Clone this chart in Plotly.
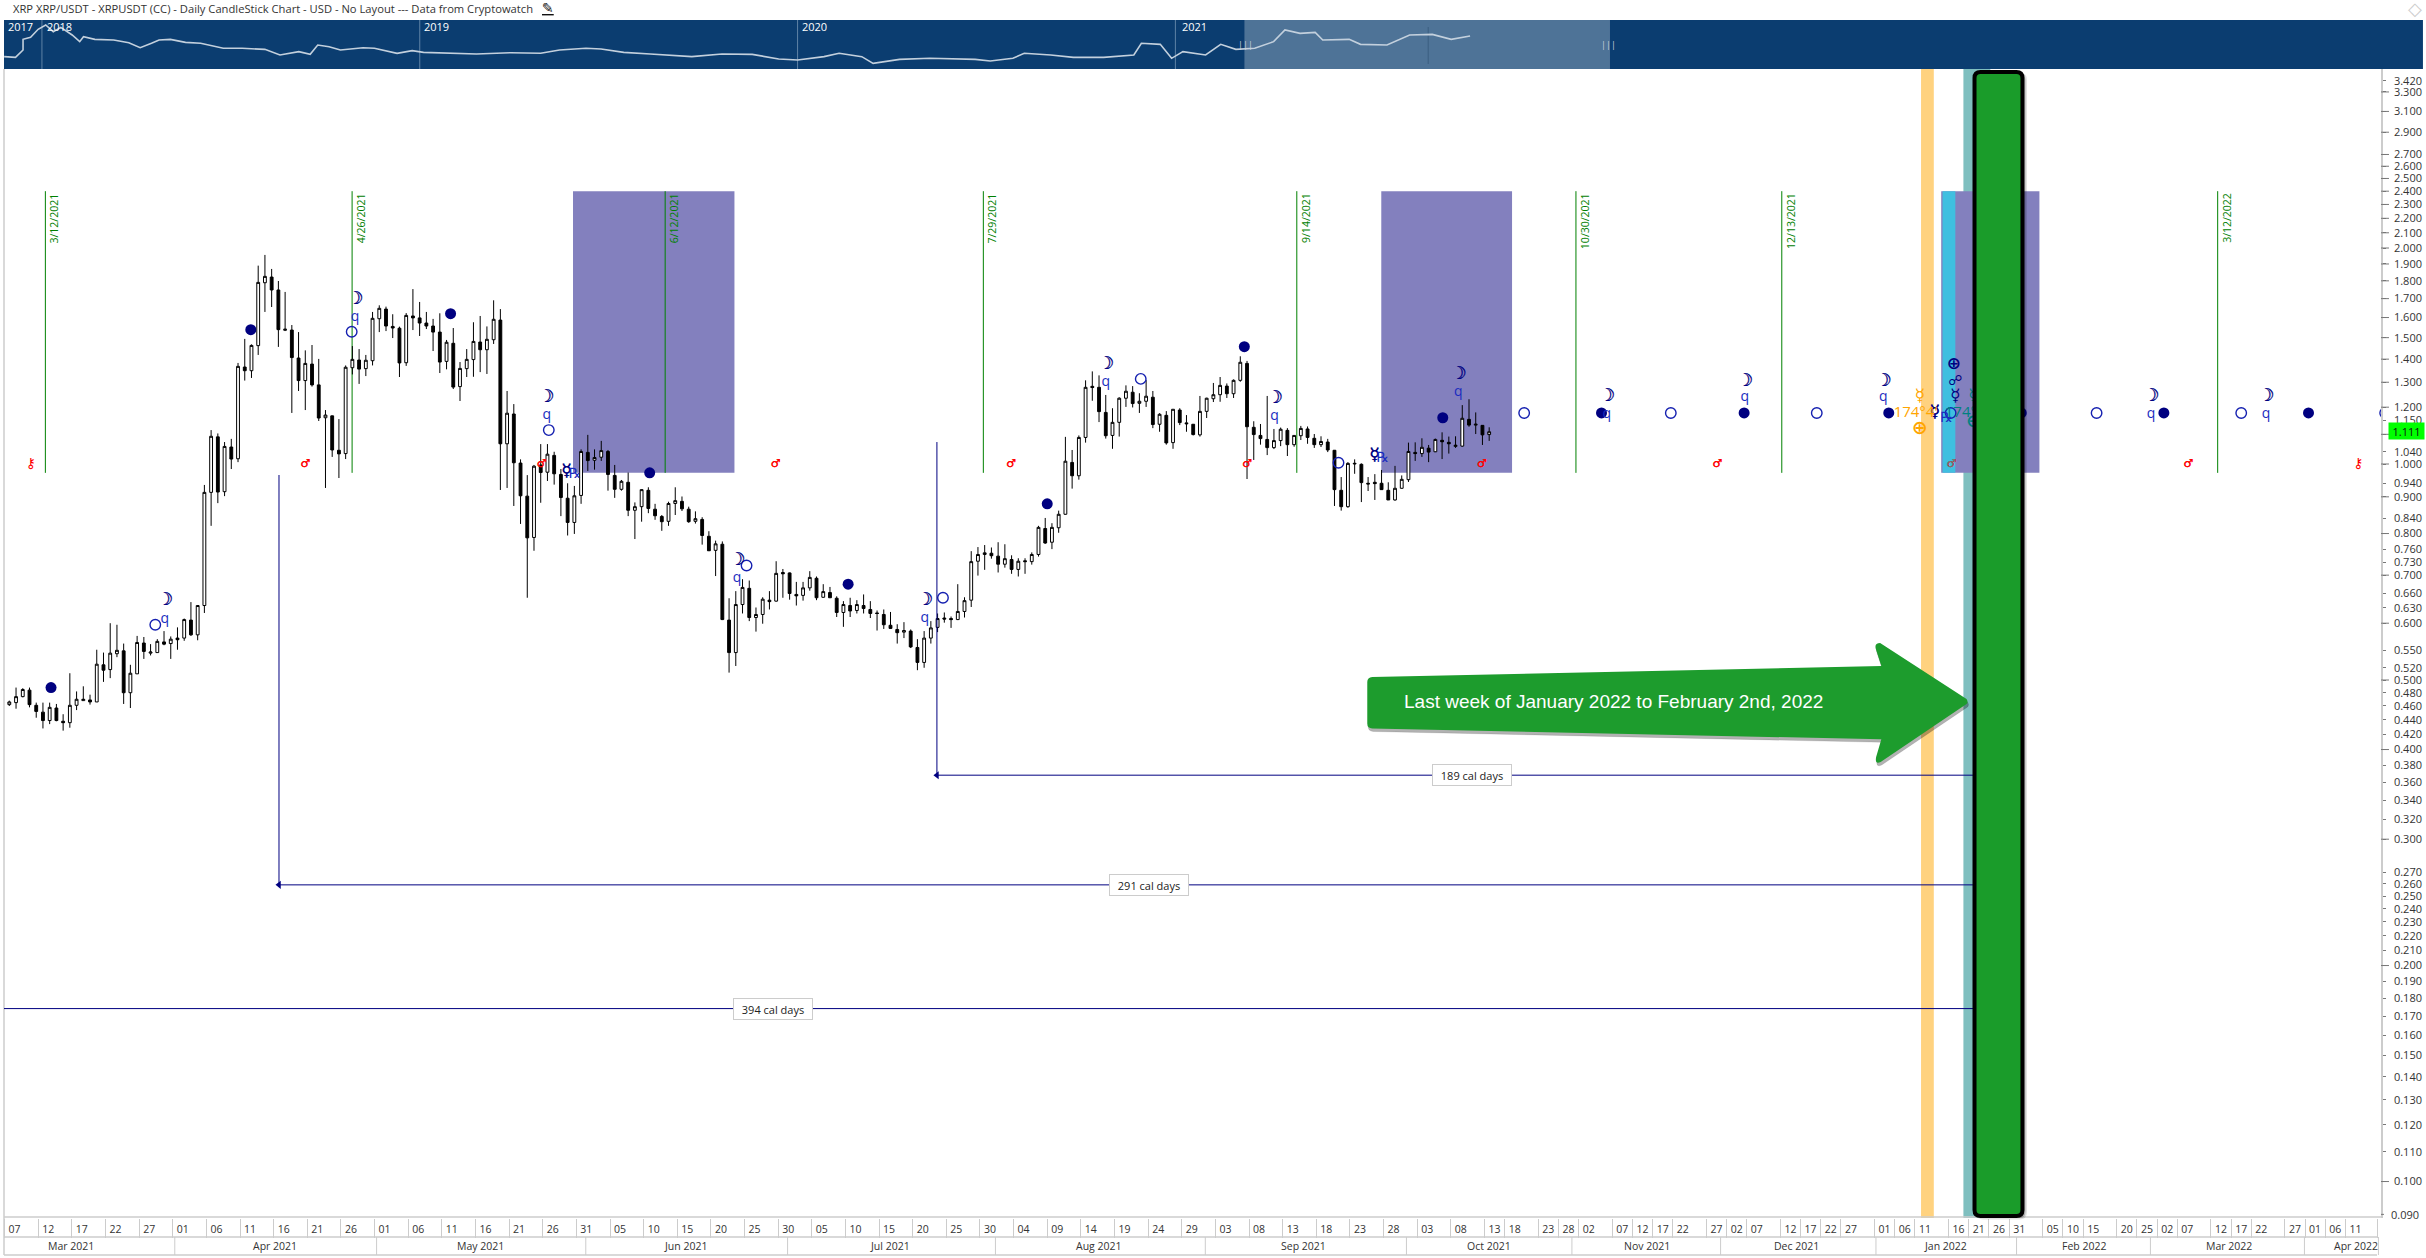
import math
import plotly.graph_objects as go

# ---------------- candle data (USD price per daily bar, first bar = slot 0)
OPEN = [.462,.465,.474,.484,.461,.451,.439,.457,.438,.436,.461,.468,.469,.466,.525,.517,.544,.549,.480,.510,.563,.545,.546,.565,.562,.572,.572,.606,.578,.635,.913,1.091,.915,
1.056,1.017,1.365,1.349,1.462,1.789,1.822,1.748,1.536,1.537,1.405,1.307,1.378,1.289,1.160,1.167,1.045,1.034,1.362,1.396,1.358,1.393,1.594,1.644,1.555,1.546,1.384,1.608,1.598,
1.572,1.557,1.527,1.390,1.473,1.282,1.358,1.398,1.479,1.443,1.490,1.587,1.067,1.174,1.003,.902,.790,.997,.974,1.028,.967,.896,.829,.904,1.038,1.012,1.022,1.041,.964,.922,.943,
.862,.872,.919,.865,.845,.832,.881,.887,.865,.832,.837,.793,.758,.773,.606,.546,.637,.671,.611,.617,.646,.644,.706,.705,.658,.656,.672,.693,.652,.662,.650,.621,.635,.625,.635,
.627,.620,.617,.596,.588,.583,.585,.555,.529,.572,.592,.610,.609,.607,.623,.646,.732,.748,.751,.744,.725,.736,.713,.733,.731,.748,.813,.778,.815,.851,1.005,.963,1.089,1.283,
1.279,1.180,1.096,1.143,1.235,1.259,1.215,1.223,1.239,1.136,1.169,1.071,1.189,1.141,1.136,1.098,1.184,1.233,1.249,1.284,1.253,1.308,1.381,1.125,1.096,1.082,1.054,1.078,1.114,
1.064,1.095,1.119,1.086,1.064,1.073,1.045,.919,.872,1.000,.999,.940,.943,.940,.919,.891,.925,.951,1.038,1.034,1.052,1.040,1.079,1.072,1.058,1.059,1.154,1.133,1.132,1.099]
HIGH = [.468,.488,.487,.488,.465,.465,.465,.463,.448,.511,.482,.490,.477,.551,.546,.600,.597,.562,.525,.576,.574,.561,.570,.585,.575,.592,.609,.642,.636,.935,1.115,1.103,1.073,
1.084,1.383,1.494,1.468,1.890,1.956,1.870,1.799,1.737,1.562,1.527,1.440,1.465,1.401,1.189,1.168,1.155,1.372,1.460,1.446,1.419,1.629,1.664,1.657,1.617,1.554,1.623,1.753,1.682,
1.629,1.593,1.622,1.489,1.547,1.387,1.446,1.576,1.608,1.555,1.691,1.644,1.264,1.212,1.015,.965,.997,1.066,1.066,1.040,.984,.940,.932,1.048,1.098,1.048,1.077,1.046,.997,.950,
.973,.884,.922,.928,.880,.849,.886,.928,.901,.872,.859,.843,.806,.782,.780,.650,.665,.691,.688,.631,.652,.665,.732,.714,.706,.685,.685,.709,.697,.680,.674,.654,.644,.651,.646,
.658,.644,.625,.627,.622,.598,.602,.588,.570,.585,.604,.619,.621,.613,.680,.652,.756,.766,.771,.765,.778,.773,.746,.739,.739,.753,.820,.841,.827,.861,1.091,1.046,1.096,1.308,
1.346,1.329,1.248,1.196,1.239,1.287,1.284,1.255,1.309,1.264,1.177,1.185,1.193,1.196,1.170,1.137,1.244,1.237,1.297,1.322,1.295,1.312,1.413,1.392,1.147,1.137,1.244,1.119,1.124,
1.122,1.096,1.130,1.128,1.101,1.093,1.084,1.046,.959,1.006,1.015,1.002,.959,.968,.981,.943,.994,.964,1.071,1.072,1.086,1.063,1.085,1.107,1.092,1.093,1.208,1.231,1.180,1.133,
1.125]
LOW = [.460,.456,.473,.458,.443,.428,.434,.438,.425,.429,.454,.468,.462,.466,.497,.503,.538,.463,.457,.510,.535,.541,.546,.559,.535,.551,.567,.576,.568,.620,.820,.882,.902,.984,
1.006,1.307,1.318,1.419,1.629,1.655,1.456,1.532,1.178,1.264,1.189,1.282,1.148,.926,1.023,.956,1.016,1.333,1.293,1.326,1.372,1.527,1.532,1.498,1.322,1.370,1.537,1.508,1.542,
1.437,1.339,1.355,1.272,1.224,1.322,1.323,1.343,1.335,1.470,.920,.926,.874,.825,.651,.757,.883,.947,.936,.846,.795,.799,.880,.978,.982,1.010,.918,.897,.918,.846,.786,.831,.854,
.836,.807,.820,.849,.860,.828,.826,.772,.757,.698,.606,.512,.523,.619,.604,.584,.599,.627,.643,.651,.647,.635,.645,.666,.646,.651,.651,.612,.593,.612,.619,.619,.610,.586,.589,
.589,.562,.572,.554,.516,.520,.562,.583,.601,.591,.606,.611,.632,.699,.712,.738,.706,.717,.703,.697,.703,.724,.743,.774,.761,.802,.850,.924,.951,1.071,1.225,1.144,1.085,1.050,
1.092,1.201,1.199,1.178,1.201,1.122,1.109,1.064,1.050,1.133,1.109,1.096,1.092,1.159,1.220,1.221,1.236,1.236,1.302,.953,1.013,1.064,1.029,1.049,1.059,1.026,1.057,1.080,1.067,
1.053,1.056,1.039,.874,.861,.869,.969,.885,.917,.891,.920,.891,.889,.924,.944,1.010,1.023,1.006,1.039,1.016,1.034,1.053,1.057,1.127,1.101,1.063,1.077]
CLOSE = [.466,.474,.485,.462,.452,.439,.458,.439,.436,.461,.470,.470,.466,.526,.516,.545,.550,.480,.511,.564,.548,.547,.566,.561,.570,.569,.607,.578,.635,.913,1.093,.914,1.058,
1.016,1.368,1.349,1.463,1.791,1.826,1.748,1.539,1.541,1.407,1.307,1.381,1.289,1.159,1.170,1.046,1.033,1.364,1.399,1.356,1.395,1.596,1.648,1.557,1.547,1.383,1.611,1.598,1.572,
1.557,1.527,1.387,1.478,1.280,1.359,1.399,1.482,1.443,1.492,1.591,1.067,1.177,1.004,.903,.789,.993,.973,1.032,.969,.898,.829,.903,1.041,1.011,1.021,1.044,.967,.922,.946,.862,
.872,.921,.867,.847,.831,.881,.889,.866,.831,.839,.795,.757,.774,.607,.546,.637,.673,.611,.617,.648,.643,.704,.703,.660,.655,.672,.695,.651,.664,.651,.621,.637,.624,.637,.629,
.619,.619,.597,.590,.582,.586,.556,.529,.572,.591,.609,.608,.607,.623,.645,.731,.748,.752,.745,.725,.738,.713,.732,.731,.748,.816,.776,.816,.851,1.009,.963,1.089,1.279,1.278,
1.183,1.095,1.143,1.235,1.263,1.214,1.223,1.243,1.135,1.173,1.070,1.192,1.142,1.138,1.099,1.184,1.235,1.249,1.287,1.253,1.308,1.386,1.127,1.099,1.085,1.054,1.078,1.118,1.064,
1.096,1.121,1.089,1.064,1.075,1.046,.921,.872,1.002,1.002,.942,.938,.939,.921,.891,.925,.952,1.041,1.034,1.055,1.039,1.082,1.074,1.067,1.062,1.158,1.133,1.136,1.098,1.109]
n = min(len(OPEN), len(HIGH), len(LOW), len(CLOSE))
SLOTS = list(range(n))

# ---------------- astro glyphs (slot, price)
FULL_X = [6.2,35.9,65.6,95.2,124.7,154.3,183.6,213.1,236.7,257.9,279.4,299.1,320.3,341.8]
FULL_Y = [.488,1.539,1.620,.972,.680,.880,1.457,1.160,1.178,1.178,1.178,1.178,1.178,1.178]
OPEN_X = [21.7,50.9,80.2,109.6,138.8,168.2,197.6,225.2,247.0,268.7,310.3,331.8,288.6,353.2]
OPEN_Y = [.597,1.529,1.115,.722,.651,1.314,1.004,1.178,1.178,1.178,1.178,1.178,1.178,1.178]
MOON_X = [23.1,51.4,79.8,108.2,136.1,163.0,188.1,215.4,237.5,258.0,278.6,318.4,335.5]
MOON_Y = [.645,1.693,1.236,.733,.645,1.374,1.232,1.331,1.241,1.305,1.305,1.241,1.241]
Q_X = [23.1,51.4,79.9,108.2,136.1,163.0,188.1,215.4,237.5,258.0,278.6,318.4,335.5]
Q_Y = [.608,1.599,1.168,.693,.609,1.298,1.164,1.257,1.174,1.236,1.236,1.174,1.174]
MARS_X = [44.0,79.1,113.9,148.9,184.0,218.9,253.9,288.7,323.9]
MARS_Y = [1.0]*9
MARS_COLORS = ['#ff0000']*7 + ['#777777', '#ff0000']
CHIRON_X = [3.2,349.2]
CHIRON_Y = [1.0,1.0]
MERC_X = [82.8,202.9,286.2]
MERC_Y = [.974,1.026,1.178]
RX_X = [84.1,204.2,288.0]
RX_Y = [.968,1.018,1.159]
MISC_X = [284.0,284.0,289.1,289.3,289.3,292.0,292.0]
MISC_Y = [1.241,1.119,1.374,1.305,1.241,1.241,1.141]
MISC_TEXT = ['<b>☿</b>','<b>⊕</b>','<b>⊕</b>','<b>☍</b>','<b>☿</b>','<b>☿</b>','<b>⊕</b>']
MISC_COLORS = ['#ffa500','#ffa500','#000080','#000080','#000080','#008080','#008080']
MISC_SIZES = [17,19,17,14,17,17,18]
DEG_X = [283.4,291.0]
DEG_Y = [1.178,1.178]
DEG_COLORS = ['#ffa500','#008080']
DEG_TEXT = "174°4'"

# ---------------- navigator overview series
NAV_X = [2017.90,2017.93,2017.95,2017.95,2017.97,2017.99,2018.01,2018.03,2018.05,2018.08,2018.10,2018.11,2018.14,2018.16,2018.19,2018.23,2018.26,2018.29,2018.31,2018.34,2018.38,2018.42,2018.48,2018.53,2018.59,2018.63,2018.68,
2018.71,2018.73,2018.76,2018.79,2018.85,2018.88,2018.94,2018.98,2019.01,2019.09,2019.15,2019.24,2019.32,2019.37,2019.44,2019.48,2019.54,2019.61,2019.72,2019.80,2019.88,2019.95,2020.00,2020.07,2020.11,2020.17,2020.20,2020.27,2020.35,
2020.47,2020.51,2020.57,2020.60,2020.67,2020.73,2020.81,2020.89,2020.91,2020.96,2020.99,2021.02,2021.08,2021.12,2021.16,2021.21,2021.26,2021.29,2021.33,2021.37,2021.39,2021.46,2021.49,2021.56,2021.62,2021.68,2021.73,2021.78]
NAV_Y = [0.252,0.238,0.388,0.605,0.646,0.81,0.898,0.762,0.85,0.694,0.558,0.66,0.605,0.605,0.592,0.537,0.435,0.524,0.592,0.605,0.544,0.524,0.422,0.422,0.401,0.286,0.354,0.299,0.49,0.456,0.388,0.435,0.422,0.32,0.374,0.34,0.32,0.306,0.333,0.32,0.388,0.422,0.408,0.34,0.306,0.252,0.306,0.299,0.204,0.184,0.252,0.32,0.252,0.116,0.197,0.218,0.197,0.163,0.218,0.32,0.286,0.238,0.238,0.286,0.524,0.503,0.218,0.354,0.286,0.503,0.401,0.422,0.558,0.796,0.728,0.748,0.592,0.605,0.503,0.49,0.694,0.707,0.605,0.673]

# ---------------- axis labels
Y_TICKS = [3.42,3.3,3.1,2.9,2.7,2.6,2.5,2.4,2.3,2.2,2.1,2.0,1.9,1.8,1.7,1.6,1.5,1.4,1.3,1.2,1.15,1.1,1.04,1.0,.94,.9,.84,.8,.76,.73,.7,.66,.63,.6,.55,.52,.5,.48,.46,.44,.42,.4,.38,.36,.34,.32,.3,.27,.26,.25,.24,.23,.22,.21,.2,.19,.18,.17,.16,.15,.14,.13,.12,.11,.1]
Y_LAST_TICK = .09
Y_LONG = [3.3,3.1,2.9,2.7,2.6,2.5,2.4,2.3,2.2,2.1,2.0,1.9,1.8,1.7,1.6,1.5,1.4,1.3,1.2,1.1,1.0,.9,.8,.7,.6,.5,.4,.3,.2,.1]
DAY_SLOTS = [0,5,10,15,20,25,30,35,40,45,50,55,60,65,70,75,80,85,90,95,100,105,110,115,120,125,130,135,140,145,150,155,160,165,170,175,180,185,190,195,200,205,210,215,220,223,228,231,234,239,242,245,248,253,256,259,264,267,270,273,278,281,284,289,292,295,298,303,306,309,314,317,320,323,328,331,334,339,342,345,348]
DAY_LABELS = ['07','12','17','22','27','01','06','11','16','21','26','01','06','11','16','21','26','31','05','10','15','20','25','30','05','10','15','20','25','30','04','09','14','19','24','29','03','08','13','18','23','28','03','08','13','18','23','28','02','07','12','17','22','27','02','07','12','17','22','27','01','06','11','16','21','26','31','05','10','15','20','25','02','07','12','17','22','27','01','06','11']
MONTHS = ['Mar 2021','Apr 2021','May 2021','Jun 2021','Jul 2021','Aug 2021','Sep 2021','Oct 2021','Nov 2021','Dec 2021','Jan 2022','Feb 2022','Mar 2022','Apr 2022']
MONTH_SLOTS = [9.2,39.5,70,100.5,130.9,162,192.4,220,243.5,265.7,287.9,308.4,330,348.9]
MONTH_EDGE_SLOTS = [24.6,54.6,85.7,115.7,146.6,177.8,207.7,232.3,254.4,277.5,298.4,318.3,341.2,352.2]
YEAR_LABELS = ['2017','2018','2019','2020','2021']
YEAR_MARKS = [2018,2019,2020,2021]

# ---------------- cycle dates and time windows (slots)
CYCLE_SLOTS = [5.36,50.96,97.5,144.8,191.4,232.9,263.5,328.3]
CYCLE_LABELS = ['3/12/2021','4/26/2021','6/12/2021','7/29/2021','9/14/2021','10/30/2021','12/13/2021','3/12/2022']
WINDOWS = [(83.8,107.8),(203.96,223.4),(287.2,301.8)]
WINDOW_LOW, WINDOW_HIGH = .972, 2.4

W, H = 2426, 1258
L_PX, R_PX, T_PX, MID_PX, B_PX = 4, 2384, 20, 69, 1218
px = lambda v: (v - L_PX) / (R_PX - L_PX)
py = lambda v: (B_PX - v) / (B_PX - T_PX)
SPLIT = py(MID_PX)
Y_RANGE = [-1.05081, .55049]
X_RANGE = [-0.79, 352.58]
NAVY = '#000080'
FONT = 'Open Sans'
TICK_SIZE = 11

def path(pts):
    """rounded outline in page pixels -> paper path; pts: ('M'|'L',x,y) or ('Q',cx,cy,x,y)"""
    out = []
    for p in pts:
        if p[0] == 'Q':
            out.append(f"Q {px(p[1])},{py(p[2])} {px(p[3])},{py(p[4])}")
        else:
            out.append(f"{p[0]} {px(p[1])},{py(p[2])}")
    return ' '.join(out) + ' Z'

def shifted(pts, dx, dy):
    return [(p[0], p[1]+dx, p[2]+dy) if p[0] != 'Q' else ('Q', p[1]+dx, p[2]+dy, p[3]+dx, p[4]+dy) for p in pts]

fig = go.Figure()
fig.add_trace(go.Candlestick(x=SLOTS, open=OPEN[:n], high=HIGH[:n], low=LOW[:n], close=CLOSE[:n],
    increasing=dict(line=dict(color='black', width=1), fillcolor='white'),
    decreasing=dict(line=dict(color='black', width=1), fillcolor='black'),
    whiskerwidth=0, showlegend=False, hoverinfo='skip', xaxis='x', yaxis='y'))
fig.add_trace(go.Scatter(x=NAV_X, y=NAV_Y, mode='lines', line=dict(color='#c3d0dd', width=1.6),
    showlegend=False, hoverinfo='skip', xaxis='x2', yaxis='y2'))
def pts(x, y, **k):
    fig.add_trace(go.Scatter(x=x, y=y, showlegend=False, hoverinfo='skip', xaxis='x', yaxis='y', **k))
pts(FULL_X, FULL_Y, mode='markers', marker=dict(symbol='circle', size=11, color=NAVY))
pts(OPEN_X, OPEN_Y, mode='markers', marker=dict(symbol='circle-open', size=10.5, color='#1520b0', line=dict(width=1.4)))
pts(MOON_X, MOON_Y, mode='text', text=['☽']*len(MOON_X), textfont=dict(family='DejaVu Sans', size=18, color=NAVY, shadow='0.5px 0 0 #000080'))
pts(Q_X, Q_Y, mode='text', text=['q']*len(Q_X), textfont=dict(family=FONT, size=14, color='#1a2cc0'))
pts(MARS_X, MARS_Y, mode='text', text=['♂']*len(MARS_X), textfont=dict(family='DejaVu Sans', size=11, color=MARS_COLORS, shadow='0.5px 0 0 #ff0000'))
pts(CHIRON_X, CHIRON_Y, mode='text', text=['<b>⚷</b>']*2, textfont=dict(family='DejaVu Sans', size=14, color='#ff0000'))
pts(MERC_X, MERC_Y, mode='text', text=['☿']*3, textfont=dict(family='DejaVu Sans', size=17, color=NAVY, shadow='0.5px 0 0 #000080'))
pts(RX_X, RX_Y, mode='text', text=['℞']*3, textfont=dict(family='DejaVu Sans', size=14, color='#1a2cc0'))
pts(MISC_X, MISC_Y, mode='text', text=MISC_TEXT, textfont=dict(family='DejaVu Sans', size=MISC_SIZES, color=MISC_COLORS))
pts(DEG_X, DEG_Y, mode='text', text=[DEG_TEXT]*2, textfont=dict(family=FONT, size=15, color=DEG_COLORS))
# arrow heads of the day-count measures
pts([40.09,137.9], [.2591,.3684], mode='markers', marker=dict(symbol='triangle-left', size=7, color=NAVY))

shapes = []
def rect_paper(x0,y0,x1,y1,fill,layer='below',**k):
    shapes.append(dict(type='rect',xref='paper',yref='paper',x0=px(x0),x1=px(x1),y0=py(y1),y1=py(y0),fillcolor=fill,line=dict(width=0),layer=layer,**k))
def line_paper(x0,y0,x1,y1,color,w=1,layer='below'):
    shapes.append(dict(type='line',xref='paper',yref='paper',x0=px(x0),x1=px(x1),y0=py(y0),y1=py(y1),line=dict(color=color,width=w),layer=layer))
# navigator
rect_paper(4, 20, W, 69, '#0b3d70')
rect_paper(1246, 20, 1612, 69, 'rgba(255,255,255,0.28)')
for y in YEAR_MARKS:
    shapes.append(dict(type='line',xref='x2',yref='y2',x0=y,x1=y,y0=0,y1=1,line=dict(color='#5f83a6',width=1),layer='below'))
line_paper(1430,27,1430,64,'#3b5f80')
# time windows
for a,b in WINDOWS:
    shapes.append(dict(type='rect',xref='x',yref='y',x0=a,x1=b,y0=WINDOW_LOW,y1=WINDOW_HIGH,fillcolor='#8380be',line=dict(width=0),layer='below'))
shapes.append(dict(type='rect',xref='x',yref='y',x0=287.4,x1=289.3,y0=WINDOW_LOW,y1=WINDOW_HIGH,fillcolor='#40bfe0',line=dict(width=0),layer='below'))
shapes.append(dict(type='rect',xref='x',yref='paper',x0=290.5,x1=294.5,y0=0,y1=SPLIT,fillcolor='rgba(0,128,128,0.5)',line=dict(width=0),layer='below'))
shapes.append(dict(type='rect',xref='x',yref='paper',x0=284.2,x1=286.1,y0=0,y1=SPLIT,fillcolor='rgba(255,165,0,0.5)',line=dict(width=0),layer='below'))
for s in CYCLE_SLOTS:
    shapes.append(dict(type='line',xref='x',yref='y',x0=s,x1=s,y0=WINDOW_LOW,y1=WINDOW_HIGH,line=dict(color='#008000',width=1),layer='below'))
# day-count measures
for x0,y0,x1,y1 in [(X_RANGE[0],.1742,292.0,.1742),(40.09,.2591,292.0,.2591),(40.09,.2591,40.09,.9653),(137.9,.3684,292.0,.3684),(137.9,.3684,137.9,1.073)]:
    shapes.append(dict(type='line',xref='x',yref='y',x0=x0,x1=x1,y0=y0,y1=y1,line=dict(color=NAVY,width=1),layer='above'))
# axis frame
line_paper(4,69,4,1255,'#cccccc',1.5)
line_paper(4,1217,R_PX,1217,'#cccccc',1.5)
line_paper(4,1237,R_PX-4,1237,'#cccccc',1.5)
line_paper(4,1255,R_PX-4,1255,'#cccccc',1.5)
for s in MONTH_EDGE_SLOTS:
    shapes.append(dict(type='line',xref='x',yref='paper',x0=s,x1=s,y0=py(1237),y1=py(1255),line=dict(color='#cccccc',width=1),layer='below'))
for v in Y_LONG:
    shapes.append(dict(type='line',xref='paper',yref='y',x0=1,x1=1+8/(R_PX-L_PX),y0=v,y1=v,line=dict(color='#777777',width=1),layer='above'))
shapes.append(dict(type='line',xref='paper',yref='y',x0=1,x1=1+3/(R_PX-L_PX),y0=Y_LAST_TICK,y1=Y_LAST_TICK,line=dict(color='#777777',width=1),layer='above'))
# big green marker with shadow
green = [('M',1983,72),('L',2019,72),('Q',2025,72,2025,78),('L',2025,1210),('Q',2025,1216,2019,1216),('L',1983,1216),('Q',1977,1216,1977,1210),('L',1977,78),('Q',1977,72,1983,72)]
shapes.append(dict(type='path',xref='paper',yref='paper',path=path(shifted(green,3,2)),fillcolor='rgba(0,0,0,0.22)',line=dict(width=3,color='rgba(0,0,0,0.12)'),layer='above'))
shapes.append(dict(type='path',xref='paper',yref='paper',path=path(green),fillcolor='#1a9c2a',line=dict(color='black',width=4),layer='above'))
# callout arrow with shadow
arrow = [('M',1374,677),('L',1883.7,666),('L',1878.5,650),('Q',1876,643,1882.5,643),('L',1969,699),('Q',1971,702,1969,704),('L',1883,762),('Q',1877,765,1878.5,757),('L',1883.7,739.3),('L',1374,728.5),('Q',1369,728.3,1369,723.5),('L',1369,682),('Q',1369,677.3,1374,677)]
shapes.append(dict(type='path',xref='paper',yref='paper',path=path(shifted(arrow,1,3)),fillcolor='rgba(0,0,0,0.3)',line=dict(width=1,color='rgba(0,0,0,0.1)'),layer='above'))
shapes.append(dict(type='path',xref='paper',yref='paper',path=path(arrow),fillcolor='#1d9c2d',line=dict(width=0),layer='above'))

ann = []
def text_px(x,y,t,size=10.5,color='#333333',family=FONT,xanchor='left',**k):
    ann.append(dict(xref='paper',yref='paper',x=px(x),y=py(y),text=t,showarrow=False,xanchor=xanchor,yanchor='middle',
                    font=dict(family=family,size=size,color=color),**k))
text_px(11,8,'XRP XRP/USDT - XRPUSDT (CC) - Daily CandleStick Chart - USD - No Layout --- Data from Cryptowatch',size=11.2)
text_px(549,8,'<u>✎</u>',size=14,color='#111111',family='DejaVu Sans',xanchor='center')
text_px(2418,8,'◇',size=18,color='#cccccc',family='DejaVu Sans',xanchor='center')
for x,t in zip([6,45,423,801,1181],YEAR_LABELS):
    text_px(x,27,t,size=11,color='white')
for x in (1247,1611):
    text_px(x,44,'|||',size=9,color='#c8d2dc',xanchor='center')
for s,t in zip(CYCLE_SLOTS,CYCLE_LABELS):
    ann.append(dict(xref='x',yref='y',x=s,y=math.log10(WINDOW_HIGH),text=t,showarrow=False,textangle=-90,xanchor='left',yanchor='top',
                    xshift=0,font=dict(family=FONT,size=10.5,color='#008000')))
for s,t in zip(MONTH_SLOTS,MONTHS):
    ann.append(dict(xref='x',yref='paper',x=s,y=py(1246),text=t,showarrow=False,xanchor='center',yanchor='middle',font=dict(family=FONT,size=10.5,color='#333333')))
for s,v,t in [(113.6,.1742,'394 cal days'),(169.4,.2591,'291 cal days'),(217.4,.3684,'189 cal days')]:
    ann.append(dict(xref='x',yref='y',x=s,y=math.log10(v),text=t,showarrow=False,xanchor='center',yanchor='middle',bgcolor='white',
                    bordercolor='#cccccc',borderwidth=1,width=76,height=18,font=dict(family=FONT,size=11,color='#222222')))
text_px(1616,702,'Last week of January 2022 to February 2nd, 2022',size=19,color='white',family='Liberation Sans',xanchor='center')
ann.append(dict(xref='paper',yref='y',x=px(2391),y=math.log10(1.111),text='1.111',showarrow=False,xanchor='left',yanchor='middle',bgcolor='#00ff00',
                width=33,height=14,font=dict(family=FONT,size=11,color='#111111')))
text_px(2392,1214,'%.3f' % Y_LAST_TICK,size=TICK_SIZE)

fig.update_layout(
    width=W, height=H, autosize=False, showlegend=False,
    margin=dict(l=L_PX, r=W-R_PX, t=T_PX, b=H-B_PX, pad=0),
    paper_bgcolor='white', plot_bgcolor='white', boxgap=0.4,
    xaxis=dict(domain=[0,1], range=X_RANGE, type='linear', anchor='y', rangeslider=dict(visible=False), showgrid=False, zeroline=False,
               tickmode='array', tickvals=[s-0.7 for s in DAY_SLOTS]+[352.1], ticktext=DAY_LABELS+[''], tickangle=0,
               ticks='outside', ticklen=19, tickwidth=1, tickcolor='#cccccc', ticklabelshift=10, ticklabelstandoff=-18,
               tickfont=dict(family=FONT,size=10.5,color='#333333'), showline=False),
    yaxis=dict(domain=[0,SPLIT], range=Y_RANGE, type='log', side='right', anchor='x', showgrid=False, zeroline=False,
               tickmode='array', tickvals=Y_TICKS, ticktext=['%.3f' % v for v in Y_TICKS],
               ticks='outside', ticklen=3, tickwidth=1, tickcolor='#777777', ticklabelstandoff=6,
               tickfont=dict(family=FONT,size=TICK_SIZE,color='#333333'), showline=True, linecolor='#cccccc', linewidth=1.5),
    xaxis2=dict(domain=[0,1], range=[2017.8996,2024.191], anchor='y2', visible=False),
    yaxis2=dict(domain=[SPLIT,1], range=[0,1], anchor='x2', visible=False),
    shapes=shapes, annotations=ann,
)
fig.write_html("out.html", config={'displayModeBar': False}, post_script="document.body.style.margin='0';")
